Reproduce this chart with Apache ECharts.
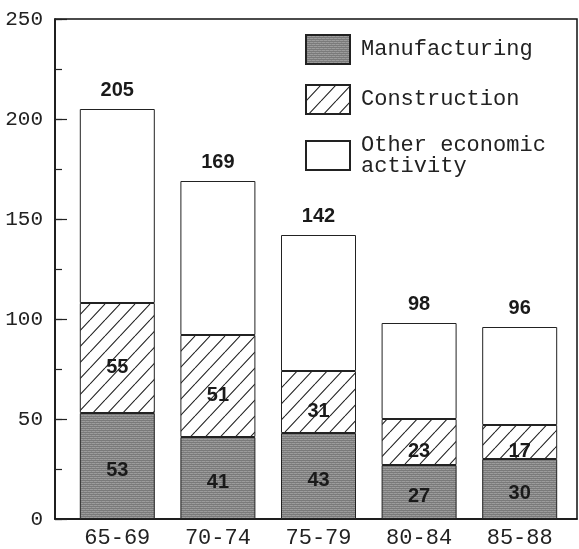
<!DOCTYPE html>
<html>
<head>
<meta charset="utf-8">
<script src="https://cdn.jsdelivr.net/npm/echarts@6/dist/echarts.min.js"></script>
<style>html,body{margin:0;padding:0;background:#fff;}#c{width:579px;height:549px;}</style>
</head>
<body>
<div id="c"></div>
<script>
const categories = ['65-69', '70-74', '75-79', '80-84', '85-88'];
const manufacturing = [53, 41, 43, 27, 30];
const construction = [55, 51, 31, 23, 17];
const other = [97, 77, 68, 48, 49];
const totals = [205, 169, 142, 98, 96];
const yTicks = [0, 50, 100, 150, 200, 250];

function makePattern(draw, w, h) {
  const c = document.createElement('canvas');
  c.width = w; c.height = h;
  const ctx = c.getContext('2d');
  draw(ctx, w, h);
  return { image: c, repeat: 'repeat' };
}
const greyPattern = makePattern(function (ctx, w, h) {
  ctx.fillStyle = '#9c9c9c'; ctx.fillRect(0, 0, w, h);
  ctx.fillStyle = '#7a7a7a';
  for (let y = 0; y < h; y += 2) ctx.fillRect(0, y, w, 1);
  ctx.fillStyle = '#8c8c8c';
  ctx.fillRect(1, 1, 1, 1); ctx.fillRect(3, 3, 1, 1);
}, 4, 4);
const hatchPattern = makePattern(function (ctx, w, h) {
  ctx.fillStyle = '#ffffff'; ctx.fillRect(0, 0, w, h);
  ctx.strokeStyle = '#222'; ctx.lineWidth = 1.1;
  ctx.beginPath();
  for (let k = -1; k <= 1; k++) {
    ctx.moveTo(k * w, h); ctx.lineTo(k * w + w, 0);
  }
  ctx.stroke();
}, 15, 16);

const monoFont = '"Liberation Mono", "DejaVu Sans Mono", monospace';
const boldFont = '"Liberation Sans", Arial, sans-serif';
const axisColor = '#111';

const chart = echarts.init(document.getElementById('c'), null, { renderer: 'canvas' });
chart.setOption({
  animation: false,
  backgroundColor: '#fff',
  grid: [
    { left: 55, top: 19, width: 522, height: 500, show: true, borderColor: axisColor, borderWidth: 1.5, backgroundColor: 'transparent' },
    { left: 67, top: 19, width: 503, height: 500 }
  ],
  legend: {
    orient: 'vertical',
    left: 305, top: 34, padding: 0,
    icon: 'rect',
    itemWidth: 44, itemHeight: 29, itemGap: 19,
    selectedMode: false,
    textStyle: { fontFamily: monoFont, fontSize: 22, color: '#222', padding: [0, 0, 0, 6], lineHeight: 21 },
    data: ['Manufacturing', 'Construction', 'Other economic\nactivity']
  },
  xAxis: [
    { gridIndex: 0, type: 'value', min: 0, max: 1, axisLine: { show: true, lineStyle: { color: axisColor, width: 1.5 } }, axisTick: { show: false }, axisLabel: { show: false }, splitLine: { show: false } },
    { gridIndex: 1, type: 'category', data: categories, axisLine: { show: false }, axisTick: { show: false },
      axisLabel: { fontFamily: monoFont, fontSize: 22, color: '#222', margin: 8 } }
  ],
  yAxis: [
    { gridIndex: 0, type: 'value', min: 0, max: 250, interval: 50,
      axisLine: { show: true, lineStyle: { color: axisColor, width: 1.5 } },
      axisTick: { show: true, inside: true, length: 12, lineStyle: { color: '#222', width: 1.2 } },
      axisLabel: { fontFamily: monoFont, fontSize: 21, color: '#222', margin: 12,
        formatter: function (v) { return yTicks.indexOf(v) >= 0 ? String(v) : ''; } },
      splitLine: { show: false } },
    { gridIndex: 0, type: 'value', min: 0, max: 250, interval: 25, position: 'left',
      axisLine: { show: false },
      axisTick: { show: true, inside: true, length: 7, lineStyle: { color: '#222', width: 1.2 } },
      axisLabel: { show: false },
      splitLine: { show: false } },
    { gridIndex: 1, type: 'value', min: 0, max: 250, show: false, splitLine: { show: false } }
  ],
  series: [
    { name: 'Manufacturing', type: 'bar', stack: 's', xAxisIndex: 1, yAxisIndex: 2, barWidth: 75,
      data: manufacturing,
      itemStyle: { color: greyPattern, borderColor: '#222', borderWidth: 1 },
      label: { show: true, position: 'inside', offset: [0, 4], fontFamily: boldFont, fontWeight: 'bold', fontSize: 20, color: '#1a1a1a' } },
    { name: 'Construction', type: 'bar', stack: 's', xAxisIndex: 1, yAxisIndex: 2, barWidth: 75,
      data: construction,
      itemStyle: { color: hatchPattern, borderColor: '#222', borderWidth: 1 },
      label: { show: true, position: 'inside', offset: [0, 9], fontFamily: boldFont, fontWeight: 'bold', fontSize: 20, color: '#1a1a1a' } },
    { name: 'Other economic\nactivity', type: 'bar', stack: 's', xAxisIndex: 1, yAxisIndex: 2, barWidth: 75,
      data: other,
      itemStyle: { color: '#ffffff', borderColor: '#222', borderWidth: 1 },
      label: { show: true, position: 'top', distance: 9, fontFamily: boldFont, fontWeight: 'bold', fontSize: 20, color: '#1a1a1a',
        formatter: function (p) { return String(totals[p.dataIndex]); } } }
  ]
});
</script>
</body>
</html>
